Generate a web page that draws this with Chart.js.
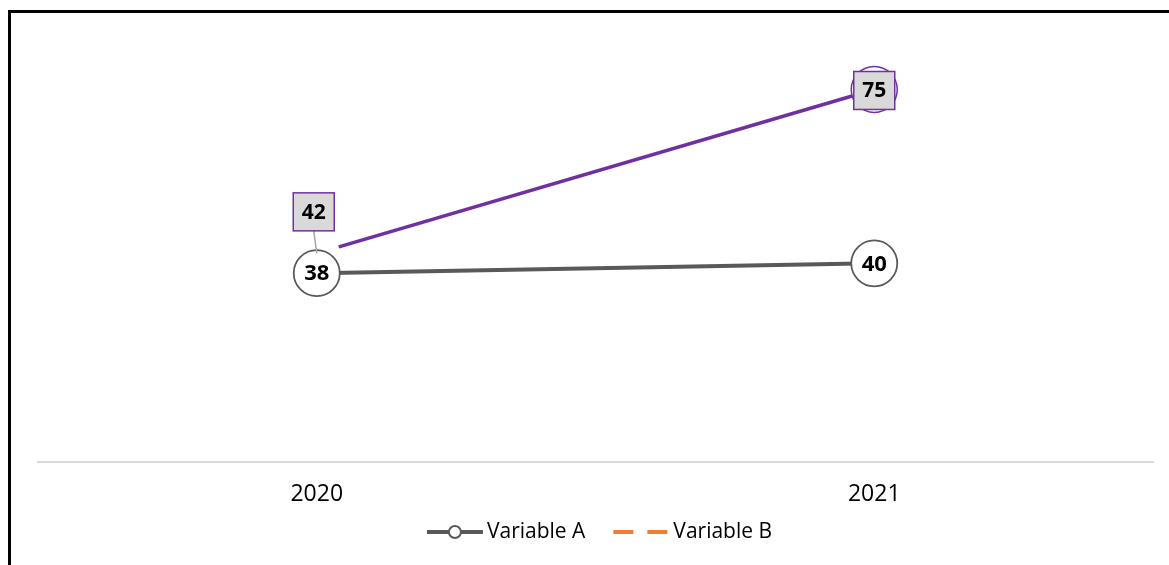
<!DOCTYPE html>
<html>
<head>
<meta charset="utf-8">
<script src="https://cdn.jsdelivr.net/npm/chart.js@4.4.1/dist/chart.umd.min.js"></script>
<style>
  html, body { margin: 0; padding: 0; background: #fff; overflow: hidden; }
  #wrap { position: relative; width: 1169px; height: 565px; }
  #chart { position: absolute; left: 0; top: 0; }
  #frame { position: absolute; left: 8px; top: 10px; width: 1300px; height: 700px;
           border-left: 3px solid #000; border-top: 3px solid #000; pointer-events: none; }
</style>
</head>
<body>
<div id="wrap">
  <canvas id="chart" width="1169" height="565"></canvas>
  <div id="frame"></div>
</div>
<script>
// Categories and series values
const categories = ['2020', '2021'];
const variableA = [38, 40];
const variableB = [null, null];
const variableC = [42, 75];
const legendNames = ['Variable A', 'Variable B'];

const FONT = '"Open Sans", "Noto Sans", sans-serif';
const GREY = '#595959';
const PURPLE = '#7030a0';
const ORANGE = '#ed7d31';

// Callout boxes for the purple series: offset of the box centre from its point
const calloutStyle = {
  width: 41, height: 38,
  offsets: [{ dx: -3, dy: -41.5 }, { dx: 0, dy: 1 }],
  fill: '#d9d9d9', border: PURPLE, leader: '#a6a6a6'
};

const valueLabels = {
  id: 'valueLabels',
  afterDatasetsDraw(chart) {
    const ctx = chart.ctx;
    ctx.save();
    ctx.font = 'bold 21px ' + FONT;
    ctx.textAlign = 'center';
    ctx.textBaseline = 'middle';
    // purple series callouts
    const metaC = chart.getDatasetMeta(2);
    metaC.data.forEach((pt, i) => {
      const v = chart.data.datasets[2].data[i];
      if (v == null) return;
      const o = calloutStyle.offsets[i];
      const cx = pt.x + o.dx, cy = pt.y + o.dy;
      const w = calloutStyle.width, h = calloutStyle.height;
      if (Math.abs(o.dy) > h / 2) {
        ctx.strokeStyle = calloutStyle.leader;
        ctx.lineWidth = 1.5;
        ctx.beginPath();
        ctx.moveTo(cx, cy + h / 2);
        ctx.lineTo(pt.x, pt.y);
        ctx.stroke();
      }
      ctx.fillStyle = calloutStyle.fill;
      ctx.fillRect(cx - w / 2, cy - h / 2, w, h);
      ctx.strokeStyle = calloutStyle.border;
      ctx.lineWidth = 1.5;
      ctx.strokeRect(cx - w / 2, cy - h / 2, w, h);
      ctx.fillStyle = '#000';
      ctx.fillText(String(v), cx, cy + 1);
    });
    // Variable A values inside their markers
    ctx.font = 'bold 22px ' + FONT;
    const metaA = chart.getDatasetMeta(0);
    metaA.data.forEach((pt, i) => {
      const v = chart.data.datasets[0].data[i];
      if (v == null) return;
      ctx.fillStyle = '#000';
      ctx.fillText(String(v), pt.x, pt.y + 1);
    });
    ctx.restore();
  }
};

// Legend below the axis: line-with-marker for A, dashed line for B
const lineLegend = {
  id: 'lineLegend',
  afterDraw(chart) {
    const ctx = chart.ctx;
    const area = chart.chartArea;
    ctx.save();
    ctx.font = '21px ' + FONT;
    ctx.textBaseline = 'middle';
    ctx.textAlign = 'left';
    const symW = 56, gapText = 4, gapItem = 28;
    const widths = legendNames.map(n => symW + gapText + ctx.measureText(n).width);
    const total = widths.reduce((a, b) => a + b, 0) + gapItem * (legendNames.length - 1);
    let x = (area.left + area.right) / 2 + 4 - total / 2;
    const y = 532;
    legendNames.forEach((name, i) => {
      const ds = chart.data.datasets[i];
      ctx.strokeStyle = ds.borderColor;
      ctx.lineWidth = 4;
      ctx.setLineDash(ds.borderDash || []);
      ctx.beginPath();
      ctx.moveTo(x, y);
      ctx.lineTo(x + symW, y);
      ctx.stroke();
      ctx.setLineDash([]);
      if (ds.legendMarker) {
        ctx.beginPath();
        ctx.arc(x + symW / 2, y, 6, 0, Math.PI * 2);
        ctx.fillStyle = '#fff';
        ctx.fill();
        ctx.lineWidth = 2;
        ctx.strokeStyle = ds.pointBorderColor;
        ctx.stroke();
      }
      ctx.fillStyle = '#000';
      ctx.fillText(name, x + symW + gapText, y);
      x += widths[i] + gapItem;
    });
    ctx.restore();
  }
};

new Chart(document.getElementById('chart'), {
  type: 'line',
  data: {
    labels: categories,
    datasets: [
      {
        label: legendNames[0],
        data: variableA,
        borderColor: GREY,
        borderWidth: 4,
        pointRadius: 23,
        pointBackgroundColor: '#fff',
        pointBorderColor: GREY,
        pointBorderWidth: 1.8,
        legendMarker: true
      },
      {
        label: legendNames[1],
        data: variableB,
        borderColor: ORANGE,
        borderWidth: 4,
        borderDash: [20, 14],
        pointRadius: 0
      },
      {
        label: 'Variable C',
        data: variableC,
        borderColor: PURPLE,
        borderWidth: 3.5,
        pointRadius: 23,
        pointBackgroundColor: '#fff',
        pointBorderColor: ['rgba(0,0,0,0)', PURPLE],
        pointBorderWidth: 1.5
      }
    ]
  },
  options: {
    responsive: false,
    animation: false,
    devicePixelRatio: 1,
    layout: { autoPadding: false, padding: { left: 38, right: 16, top: 15, bottom: 37.5 } },
    plugins: { legend: { display: false }, tooltip: { enabled: false } },
    scales: {
      x: {
        offset: true,
        grid: { display: false, drawTicks: false },
        border: { display: true, color: '#d9d9d9', width: 2 },
        ticks: { color: '#000', padding: 19, font: { family: FONT, size: 23 } },
        afterFit(scale) { scale.paddingLeft = 0; scale.paddingRight = 0; }
      },
      y: { display: false, min: 0, max: 90 }
    }
  },
  plugins: [valueLabels, lineLegend]
});
</script>
</body>
</html>
